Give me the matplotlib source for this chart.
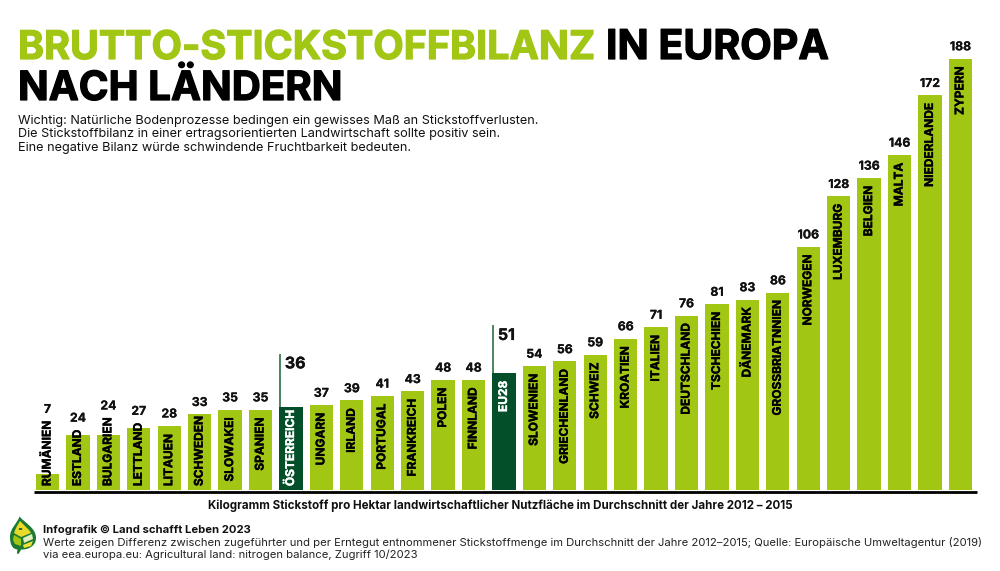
import matplotlib
matplotlib.use("Agg")
import matplotlib.pyplot as plt
import matplotlib.patheffects as pe
from matplotlib.path import Path
from matplotlib.patches import PathPatch, Polygon, Circle

FONT = "Inter"
GREEN = "#a2c614"
DARK = "#024f2a"
W, H = 1000, 571

countries = ["RUMÄNIEN","ESTLAND","BULGARIEN","LETTLAND","LITAUEN","SCHWEDEN","SLOWAKEI","SPANIEN",
             "ÖSTERREICH","UNGARN","IRLAND","PORTUGAL","FRANKREICH","POLEN","FINNLAND","EU28",
             "SLOWENIEN","GRIECHENLAND","SCHWEIZ","KROATIEN","ITALIEN","DEUTSCHLAND","TSCHECHIEN",
             "DÄNEMARK","GROSSBRIATNNIEN","NORWEGEN","LUXEMBURG","BELGIEN","MALTA","NIEDERLANDE","ZYPERN"]
values = [7,24,24,27,28,33,35,35,36,37,39,41,43,48,48,51,54,56,59,66,71,76,81,83,86,106,128,136,146,172,188]
highlight = ["ÖSTERREICH","EU28"]
bottom_aligned = ["RUMÄNIEN","ESTLAND","BULGARIEN","LETTLAND","LITAUEN","SCHWEDEN","ÖSTERREICH"]
# callout line top and label centre, in pixels above the bar top
callout_px = {"ÖSTERREICH": (52, 45), "EU28": (47, 39)}

PX_PER_UNIT = 2.295
fig = plt.figure(figsize=(W/100, H/100), dpi=100, facecolor="white")
left, right, base = 34, 974, 490
ax = fig.add_axes([left/W, (H-base)/H, (right-left)/W, base/H])
ax.set_xlim(-0.4437, 30.447)
ax.set_ylim(0, base/PX_PER_UNIT)
ax.axis("off")
fig.add_artist(plt.Line2D([34/W, 977/W], [(H-491.5)/H]*2, color="black", lw=2.0, solid_capstyle="butt"))

colors = [DARK if c in highlight else GREEN for c in countries]
ax.bar(range(len(values)), values, width=0.765, color=colors, linewidth=0, zorder=2)

fig.canvas.draw()
renderer = fig.canvas.get_renderer()
inv = ax.transData.inverted()
for i, (c, v) in enumerate(zip(countries, values)):
    hl = c in highlight
    col = "white" if hl else "black"
    fx = [pe.withStroke(linewidth=0.25, foreground=col)]
    if c in bottom_aligned:
        t = ax.text(i, 1.7, c, rotation=90, ha="center", va="bottom", fontsize=8.6,
                    fontweight="bold", family=FONT, color=col, zorder=3, path_effects=fx)
    else:
        t = ax.text(i, v-3.5, c, rotation=90, ha="center", va="top", fontsize=8.6,
                    fontweight="bold", family=FONT, color=col, zorder=3, path_effects=fx)
    if hl:
        line_px, label_px = callout_px[c]
        ax.plot([i-0.37, i-0.37], [v, v+line_px/PX_PER_UNIT], color="#3f7a4e", lw=1.3, zorder=1)
        ax.text(i-0.2, v+label_px/PX_PER_UNIT, str(v), ha="left", va="center_baseline", fontsize=11.5,
                fontweight="bold", family=FONT, color="#111111",
                path_effects=[pe.withStroke(linewidth=0.2, foreground="#111111")])
    else:
        # labels that rise above their bar push the value up
        label_top = inv.transform(t.get_window_extent(renderer))[1, 1]
        ax.text(i, max(v, label_top)+3.6, str(v), ha="center", va="baseline", fontsize=8.8,
                fontweight="bold", family=FONT, color="#111111",
                path_effects=[pe.withStroke(linewidth=0.15, foreground="#111111")])

title_fx = lambda col: [pe.withStroke(linewidth=0.9, foreground=col)]
fig.text(18/W, 1-59/H, "BRUTTO-STICKSTOFFBILANZ", fontsize=28.4, fontweight="bold", family=FONT,
         color=GREEN, ha="left", va="baseline", path_effects=title_fx(GREEN))
fig.text(606/W, 1-59/H, "IN EUROPA", fontsize=29.5, fontweight="bold", family=FONT,
         color="black", ha="left", va="baseline", path_effects=title_fx("black"))
fig.text(18/W, 1-100/H, "NACH LÄNDERN", fontsize=29, fontweight="bold", family=FONT,
         color="black", ha="left", va="baseline", path_effects=title_fx("black"))
for y, s in zip([121, 134.5, 148],
                ["Wichtig: Natürliche Bodenprozesse bedingen ein gewisses Maß an Stickstoffverlusten.",
                 "Die Stickstoffbilanz in einer ertragsorientierten Landwirtschaft sollte positiv sein.",
                 "Eine negative Bilanz würde schwindende Fruchtbarkeit bedeuten."]):
    fig.text(18/W, 1-y/H, s, fontsize=9.15, family=FONT, color="#111111", ha="left", va="center")

fig.text(500/W, 1-506/H, "Kilogramm Stickstoff pro Hektar landwirtschaftlicher Nutzfläche im Durchschnitt der Jahre 2012 – 2015",
         fontsize=8.33, fontweight="bold", family=FONT, ha="center", va="center", color="#111111")
fig.text(43/W, 1-530/H, "Infografik © Land schafft Leben 2023", fontsize=8.1, fontweight="bold",
         family=FONT, ha="left", va="center", color="#111111")
fig.text(43/W, 1-542/H, "Werte zeigen Differenz zwischen zugeführter und per Erntegut entnommener Stickstoffmenge im Durchschnitt der Jahre 2012–2015; Quelle: Europäische Umweltagentur (2019)",
         fontsize=8.12, family=FONT, ha="left", va="center", color="#222222")
fig.text(43/W, 1-554.5/H, "via eea.europa.eu: Agricultural land: nitrogen balance, Zugriff 10/2023",
         fontsize=8.12, family=FONT, ha="left", va="center", color="#222222")

# logo, drawn in pixel space
def px(pts):
    return [(x/W, 1-y/H) for x, y in pts]
def add(pts, col, codes=None):
    if codes is None:
        p = Polygon(px(pts), closed=True, facecolor=col, edgecolor="none", transform=fig.transFigure)
    else:
        p = PathPatch(Path(px(pts), codes), facecolor=col, edgecolor="none", transform=fig.transFigure)
    fig.add_artist(p)
C = Path.CURVE4
add([(19.5,516.5),(25,523),(36,528),(36,538),(36,546),(28,550),(21,549.5),(20,552),(19,553.5),(18,554),
     (16.5,554),(17,552),(17.5,549.5),(12,549),(10,544),(10,537),(10,528),(17,524),(19.5,516.5),(19.5,516.5)],
    "#1c7a30",
    [Path.MOVETO,C,C,C,C,C,C,C,C,C,C,C,C,C,C,C,C,C,C,Path.LINETO])
add([(20,521),(25,526),(29,530),(31,533),(21,537),(14,533),(16,528)], "#e9d92b")
add([(14,535),(21,539),(21,546),(15,544),(13,540)], "#a2c614")
add([(23,538),(32,534),(33,539),(24,543)], "#dff0c0")
add([(23,545),(33,541),(31,546),(24,548)], "#f1e23a")
fig.add_artist(Circle((20.5/W, 1-529/H), 0.0018, facecolor="#1c5a2a", edgecolor="none", transform=fig.transFigure))

fig.savefig("out.png", dpi=100)
